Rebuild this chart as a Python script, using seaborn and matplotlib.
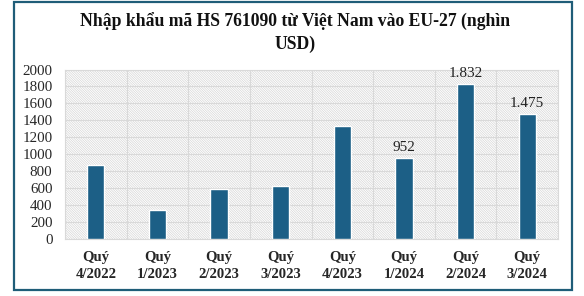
import matplotlib
matplotlib.use("Agg")
import matplotlib.pyplot as plt
from matplotlib.patches import Rectangle
import seaborn as sns
import pandas as pd

title = "Nhập khẩu mã HS 761090 từ Việt Nam vào EU-27 (nghìn\nUSD)"
quarters = ["Quý\n4/2022", "Quý\n1/2023", "Quý\n2/2023", "Quý\n3/2023",
            "Quý\n4/2023", "Quý\n1/2024", "Quý\n2/2024", "Quý\n3/2024"]
values = [873, 342, 590, 625, 1333, 952, 1832, 1475]
labelled = [False, False, False, False, False, True, True, True]
yticks = [0, 200, 400, 600, 800, 1000, 1200, 1400, 1600, 1800, 2000]

sns.set_theme(style="white")
plt.rcParams["font.family"] = ["Liberation Serif", "DejaVu Serif"]
plt.rcParams["hatch.linewidth"] = 0.5

W, H = 584, 296
fig = plt.figure(figsize=(W / 100, H / 100), dpi=100)
fig.patch.set_facecolor("white")

# outer frame
fig.patches.append(Rectangle((14 / W, 1 - 290 / H), 558 / W, 288 / H,
                             transform=fig.transFigure, fill=False,
                             edgecolor="#1f5d78", linewidth=1.6, zorder=10))

fig.text(0.505, 1 - 13 / H, title, ha="center", va="top",
         fontsize=12.7, fontweight="bold", linespacing=1.32, color="#111111")

ax = fig.add_axes([65 / W, 1 - 239 / H, 493 / W, 169.5 / H])
ax.set_facecolor("white")
ax.add_patch(Rectangle((0, 0), 1, 1, transform=ax.transAxes,
                       facecolor="white", edgecolor="#d6d6d6", hatch="\\" * 14,
                       linewidth=0, zorder=0))

df = pd.DataFrame({"q": quarters, "v": values})
sns.barplot(data=df, x="q", y="v", color="#1c5f86", width=0.28,
            saturation=1, ax=ax, zorder=3)

ax.set_ylim(0, 2000)
ax.set_xlim(-0.5, len(quarters) - 0.5)
ax.set_yticks(yticks)
ax.set_yticklabels([str(t) for t in yticks], fontsize=10.8)
ax.set_xticks(range(len(quarters)))
ax.set_xticklabels(quarters, fontsize=10.6, fontweight="bold", linespacing=1.3)
ax.set_xticks([i - 0.5 for i in range(len(quarters) + 1)], minor=True)
ax.set_xlabel("")
ax.set_ylabel("")

ax.grid(True, axis="y", color="#d9d9d9", linewidth=0.8, zorder=1)
ax.grid(True, axis="x", which="minor", color="#d9d9d9", linewidth=0.8, zorder=1)
ax.grid(False, axis="x", which="major")
ax.set_axisbelow(True)
ax.tick_params(axis="both", which="both", length=0)
ax.tick_params(axis="y", pad=9)
ax.tick_params(axis="x", pad=9)
for s in ax.spines.values():
    s.set_color("#d9d9d9")
    s.set_linewidth(0.8)

labels = [f"{v:,}".replace(",", ".") if show else "" for v, show in zip(values, labelled)]
ax.bar_label(ax.containers[0], labels=labels, padding=3, fontsize=11, color="#222222")

fig.savefig("out.png", dpi=100, facecolor="white")
